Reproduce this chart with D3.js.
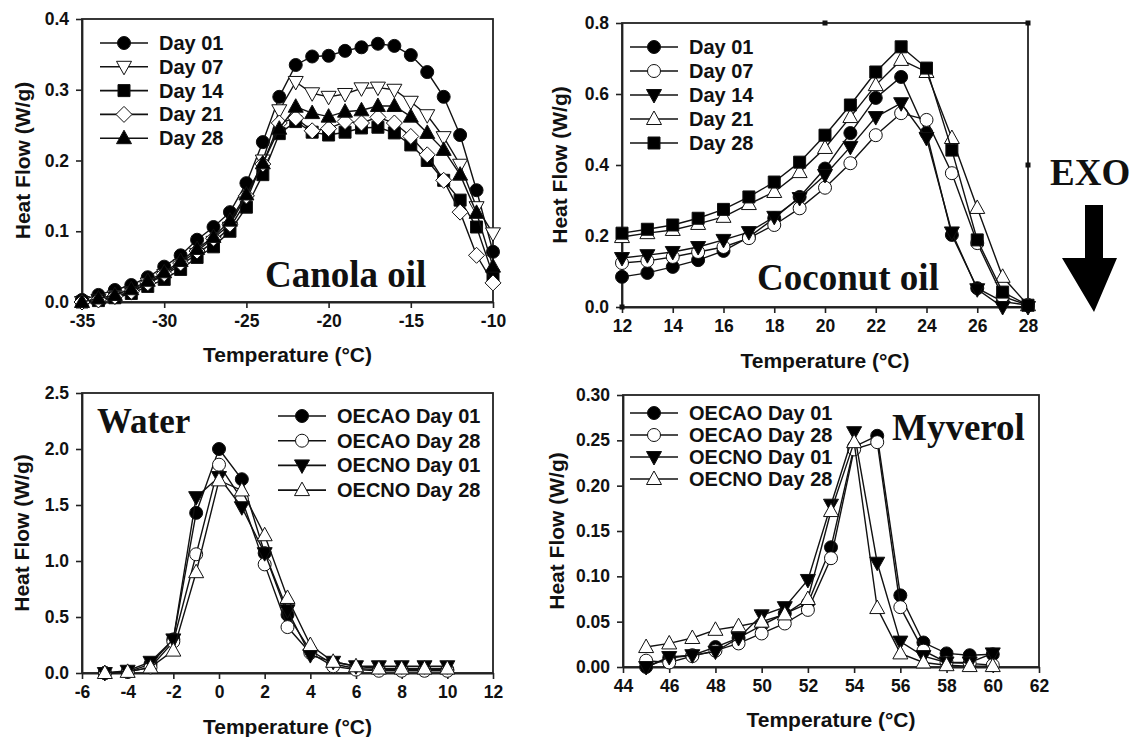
<!DOCTYPE html>
<html>
<head>
<meta charset="utf-8">
<script src="https://cdn.jsdelivr.net/npm/d3@7"></script>
<style>
body { margin: 0; background: #fff; }
svg text { font-family: "Liberation Sans", Arial, sans-serif; font-weight: bold; fill: #111; }
.title { font-family: "Liberation Serif", "Times New Roman", serif !important; }
</style>
</head>
<body>
<svg id="chart" width="1134" height="737"></svg>
<script>
// ---- Canola oil ----
const canolaTemp = [-35,-34,-33,-32,-31,-30,-29,-28,-27,-26,-25,-24,-23,-22,-21,-20,-19,-18,-17,-16,-15,-14,-13,-12,-11,-10];
const canolaDay01 = [0.003,0.010,0.017,0.024,0.035,0.050,0.066,0.088,0.106,0.127,0.168,0.226,0.290,0.335,0.347,0.348,0.355,0.360,0.365,0.362,0.349,0.325,0.290,0.236,0.158,0.071];
const canolaDay07 = [0.000,0.003,0.008,0.014,0.026,0.038,0.052,0.068,0.085,0.105,0.143,0.200,0.271,0.311,0.295,0.290,0.294,0.302,0.303,0.300,0.283,0.264,0.233,0.194,0.134,0.097];
const canolaDay14 = [0.000,0.002,0.006,0.012,0.022,0.032,0.046,0.063,0.078,0.100,0.134,0.180,0.238,0.255,0.240,0.236,0.240,0.246,0.247,0.239,0.222,0.200,0.172,0.144,0.106,0.038];
const canolaDay21 = [0.000,0.003,0.008,0.015,0.027,0.040,0.055,0.072,0.090,0.110,0.150,0.195,0.253,0.260,0.242,0.245,0.255,0.253,0.261,0.253,0.234,0.208,0.172,0.127,0.066,0.027];
const canolaDay28 = [0.000,0.005,0.010,0.018,0.030,0.042,0.058,0.075,0.092,0.115,0.152,0.196,0.245,0.276,0.267,0.262,0.269,0.271,0.277,0.277,0.262,0.239,0.215,0.180,0.126,0.050];
const canolaNames = ["Day 01","Day 07","Day 14","Day 21","Day 28"];
const canolaXTicks = [-35,-30,-25,-20,-15,-10];
const canolaYTicks = [0.0,0.1,0.2,0.3,0.4];

// ---- Coconut oil ----
const coconutTemp = [12,13,14,15,16,17,18,19,20,21,22,23,24,25,26,27,28];
const coconutDay01 = [0.085,0.096,0.113,0.132,0.158,0.197,0.250,0.310,0.390,0.490,0.589,0.648,0.490,0.203,0.053,0.015,0.005];
const coconutDay07 = [0.124,0.130,0.141,0.155,0.169,0.194,0.231,0.278,0.336,0.405,0.484,0.546,0.527,0.377,0.180,0.030,0.005];
const coconutDay14 = [0.138,0.146,0.155,0.169,0.189,0.211,0.254,0.307,0.372,0.451,0.535,0.574,0.476,0.210,0.050,0.000,0.000];
const coconutDay21 = [0.197,0.208,0.217,0.234,0.254,0.290,0.324,0.380,0.448,0.535,0.625,0.696,0.662,0.476,0.279,0.085,0.005];
const coconutDay28 = [0.208,0.219,0.231,0.250,0.275,0.310,0.352,0.408,0.484,0.569,0.662,0.733,0.673,0.442,0.189,0.042,0.005];
const coconutNames = ["Day 01","Day 07","Day 14","Day 21","Day 28"];
const coconutXTicks = [12,14,16,18,20,22,24,26,28];
const coconutYTicks = [0.0,0.2,0.4,0.6,0.8];

// ---- Water ----
const waterTemp = [-5,-4,-3,-2,-1,0,1,2,3,4,5,6,7,8,9,10];
const waterCAO01 = [0.00,0.01,0.08,0.30,1.43,2.00,1.73,1.07,0.52,0.20,0.08,0.04,0.03,0.03,0.03,0.03];
const waterCAO28 = [0.00,0.01,0.05,0.28,1.06,1.86,1.55,0.97,0.41,0.18,0.06,0.03,0.02,0.02,0.02,0.02];
const waterCNO01 = [0.00,0.02,0.10,0.30,1.57,1.75,1.48,1.07,0.56,0.16,0.10,0.06,0.06,0.06,0.06,0.06];
const waterCNO28 = [0.00,0.01,0.05,0.20,0.90,1.72,1.63,1.23,0.67,0.25,0.10,0.06,0.04,0.04,0.04,0.04];
const emulsionNames = ["OECAO Day 01","OECAO Day 28","OECNO Day 01","OECNO Day 28"];
const waterXTicks = [-6,-4,-2,0,2,4,6,8,10,12];
const waterYTicks = [0.0,0.5,1.0,1.5,2.0,2.5];

// ---- Myverol ----
const myverolTemp = [45,46,47,48,49,50,51,52,53,54,55,56,57,58,59,60];
const myverolCAO01 = [0.000,0.010,0.013,0.022,0.032,0.046,0.059,0.070,0.132,0.243,0.255,0.079,0.027,0.015,0.013,0.014];
const myverolCAO28 = [0.007,0.005,0.012,0.018,0.026,0.037,0.048,0.063,0.120,0.240,0.248,0.066,0.018,0.005,0.004,0.002];
const myverolCNO01 = [0.000,0.011,0.013,0.017,0.032,0.057,0.066,0.096,0.179,0.259,0.115,0.028,0.012,0.005,0.005,0.015];
const myverolCNO28 = [0.022,0.026,0.032,0.041,0.045,0.050,0.058,0.075,0.172,0.248,0.065,0.015,0.005,0.002,0.001,0.001];
const myverolXTicks = [44,46,48,50,52,54,56,58,60,62];
const myverolYTicks = [0.00,0.05,0.10,0.15,0.20,0.25,0.30];

const svg = d3.select("#chart");

// marker shapes drawn around (0,0)
function markerPath(shape) {
  if (shape === "circle") return "M-6.5,0A6.5,6.5 0 1,1 6.5,0A6.5,6.5 0 1,1 -6.5,0Z";
  if (shape === "square") return "M-6,-6H6V6H-6Z";
  if (shape === "diamond") return "M0,-8L8,0L0,8L-8,0Z";
  if (shape === "up") return "M0,-8L7.5,5.5L-7.5,5.5Z";
  if (shape === "down") return "M0,8L7.5,-5.5L-7.5,-5.5Z";
}

const panels = [
  {
    box: {l: 82, r: 493, t: 19, b: 302},
    xDomain: [-35, -10], yDomain: [0, 0.4], xTicks: canolaXTicks, yTicks: canolaYTicks, yFmt: ".1f",
    temps: canolaTemp,
    series: [
      {name: canolaNames[0], v: canolaDay01, shape: "circle", fill: "#000"},
      {name: canolaNames[1], v: canolaDay07, shape: "down", fill: "#fff"},
      {name: canolaNames[2], v: canolaDay14, shape: "square", fill: "#000"},
      {name: canolaNames[3], v: canolaDay21, shape: "diamond", fill: "#fff"},
      {name: canolaNames[4], v: canolaDay28, shape: "up", fill: "#000"}
    ],
    legend: {x: 100, y: 43, dy: 23.8},
    title: {text: "Canola oil", x: 265, y: 287, size: 37},
    xLabelY: 355, yLabelX: 23
  },
  {
    box: {l: 622, r: 1028, t: 23, b: 307},
    xDomain: [12, 28], yDomain: [0, 0.8], xTicks: coconutXTicks, yTicks: coconutYTicks, yFmt: ".1f",
    temps: coconutTemp,
    series: [
      {name: coconutNames[0], v: coconutDay01, shape: "circle", fill: "#000"},
      {name: coconutNames[1], v: coconutDay07, shape: "circle", fill: "#fff"},
      {name: coconutNames[2], v: coconutDay14, shape: "down", fill: "#000"},
      {name: coconutNames[3], v: coconutDay21, shape: "up", fill: "#fff"},
      {name: coconutNames[4], v: coconutDay28, shape: "square", fill: "#000"}
    ],
    legend: {x: 630, y: 47, dy: 24},
    title: {text: "Coconut oil", x: 757, y: 290, size: 37},
    xLabelY: 361, yLabelX: 560,
    stray: true
  },
  {
    box: {l: 82, r: 493, t: 393, b: 673},
    xDomain: [-6, 12], yDomain: [0, 2.5], xTicks: waterXTicks, yTicks: waterYTicks, yFmt: ".1f",
    temps: waterTemp,
    series: [
      {name: emulsionNames[0], v: waterCAO01, shape: "circle", fill: "#000"},
      {name: emulsionNames[1], v: waterCAO28, shape: "circle", fill: "#fff"},
      {name: emulsionNames[2], v: waterCNO01, shape: "down", fill: "#000"},
      {name: emulsionNames[3], v: waterCNO28, shape: "up", fill: "#fff"}
    ],
    legend: {x: 278, y: 416, dy: 24.7},
    title: {text: "Water", x: 97, y: 433, size: 35},
    xLabelY: 727, yLabelX: 22
  },
  {
    box: {l: 623, r: 1039, t: 395, b: 667},
    xDomain: [44, 62], yDomain: [0, 0.3], xTicks: myverolXTicks, yTicks: myverolYTicks, yFmt: ".2f",
    temps: myverolTemp,
    series: [
      {name: emulsionNames[0], v: myverolCAO01, shape: "circle", fill: "#000"},
      {name: emulsionNames[1], v: myverolCAO28, shape: "circle", fill: "#fff"},
      {name: emulsionNames[2], v: myverolCNO01, shape: "down", fill: "#000"},
      {name: emulsionNames[3], v: myverolCNO28, shape: "up", fill: "#fff"}
    ],
    legend: {x: 630, y: 413, dy: 22},
    title: {text: "Myverol", x: 892, y: 440, size: 37},
    xLabelY: 720, yLabelX: 557
  }
];

panels.forEach(p => {
  const b = p.box;
  const x = d3.scaleLinear().domain(p.xDomain).range([b.l, b.r]);
  const y = d3.scaleLinear().domain(p.yDomain).range([b.b, b.t]);
  const g = svg.append("g");

  // frame
  g.append("rect")
    .attr("x", b.l).attr("y", b.t)
    .attr("width", b.r - b.l).attr("height", b.b - b.t)
    .attr("fill", "none").attr("stroke", "#222").attr("stroke-width", 1.8);

  // axes
  const xa = g.append("g")
    .attr("transform", `translate(0,${b.b})`)
    .call(d3.axisBottom(x).tickValues(p.xTicks).tickFormat(d3.format("d")).tickSize(6).tickSizeOuter(0).tickPadding(7));
  const ya = g.append("g")
    .attr("transform", `translate(${b.l},0)`)
    .call(d3.axisLeft(y).tickValues(p.yTicks).tickFormat(d3.format(p.yFmt)).tickSize(6).tickSizeOuter(0).tickPadding(7));
  [xa, ya].forEach(a => {
    a.select(".domain").attr("stroke", "#222").attr("stroke-width", 1.8);
    a.selectAll(".tick line").attr("stroke", "#222").attr("stroke-width", 1.6);
    a.selectAll(".tick text").attr("font-size", 17.5).attr("fill", "#111");
  });
  xa.selectAll(".tick text").text(d => d3.format("d")(d).replace("\u2212", "-"));

  // stray little marks seen on the coconut frame
  if (p.stray) {
    [[x(20), y(0.8)], [x(28), y(0.8)], [x(28), y(0.4)], [x(12), y(0)]].forEach(s => {
      g.append("rect").attr("x", s[0] - 2.5).attr("y", s[1] - 2.5)
        .attr("width", 5).attr("height", 5).attr("fill", "#111");
    });
  }

  // series lines + markers
  const line = d3.line().x((d, i) => x(p.temps[i])).y(d => y(d));
  p.series.forEach(s => {
    g.append("path").datum(s.v)
      .attr("d", line)
      .attr("fill", "none").attr("stroke", "#111").attr("stroke-width", 1.4);
    g.selectAll(null).data(s.v).enter().append("path")
      .attr("d", markerPath(s.shape))
      .attr("transform", (d, i) => `translate(${x(p.temps[i])},${y(d)})`)
      .attr("fill", s.fill).attr("stroke", "#111").attr("stroke-width", 1);
  });

  // legend
  const lg = g.append("g");
  p.series.forEach((s, i) => {
    const ly = p.legend.y + i * p.legend.dy;
    lg.append("line")
      .attr("x1", p.legend.x).attr("x2", p.legend.x + 48)
      .attr("y1", ly).attr("y2", ly)
      .attr("stroke", "#111").attr("stroke-width", 1.6);
    lg.append("path")
      .attr("d", markerPath(s.shape))
      .attr("transform", `translate(${p.legend.x + 24},${ly})`)
      .attr("fill", s.fill).attr("stroke", "#111").attr("stroke-width", 1);
    lg.append("text")
      .attr("x", p.legend.x + 59).attr("y", ly)
      .attr("dy", "0.35em")
      .attr("font-size", 20)
      .text(s.name);
  });

  // panel title
  g.append("text")
    .attr("class", "title")
    .attr("x", p.title.x).attr("y", p.title.y)
    .attr("font-size", p.title.size)
    .text(p.title.text);

  // axis labels
  g.append("text")
    .attr("x", (b.l + b.r) / 2).attr("y", p.xLabelY)
    .attr("text-anchor", "middle").attr("dy", "0.35em")
    .attr("font-size", 21)
    .text("Temperature (\u00B0C)");
  g.append("text")
    .attr("transform", `translate(${p.yLabelX},${(b.t + b.b) / 2}) rotate(-90)`)
    .attr("text-anchor", "middle").attr("dy", "0.35em")
    .attr("font-size", 21)
    .text("Heat Flow (W/g)");
});

// EXO marker with arrow
svg.append("text")
  .attr("class", "title")
  .attr("x", 1050).attr("y", 185)
  .attr("font-size", 37)
  .text("EXO");
svg.append("path")
  .attr("d", "M1085,205H1103V258H1117L1094,312L1062,258H1085Z")
  .attr("fill", "#000");
</script>
</body>
</html>
